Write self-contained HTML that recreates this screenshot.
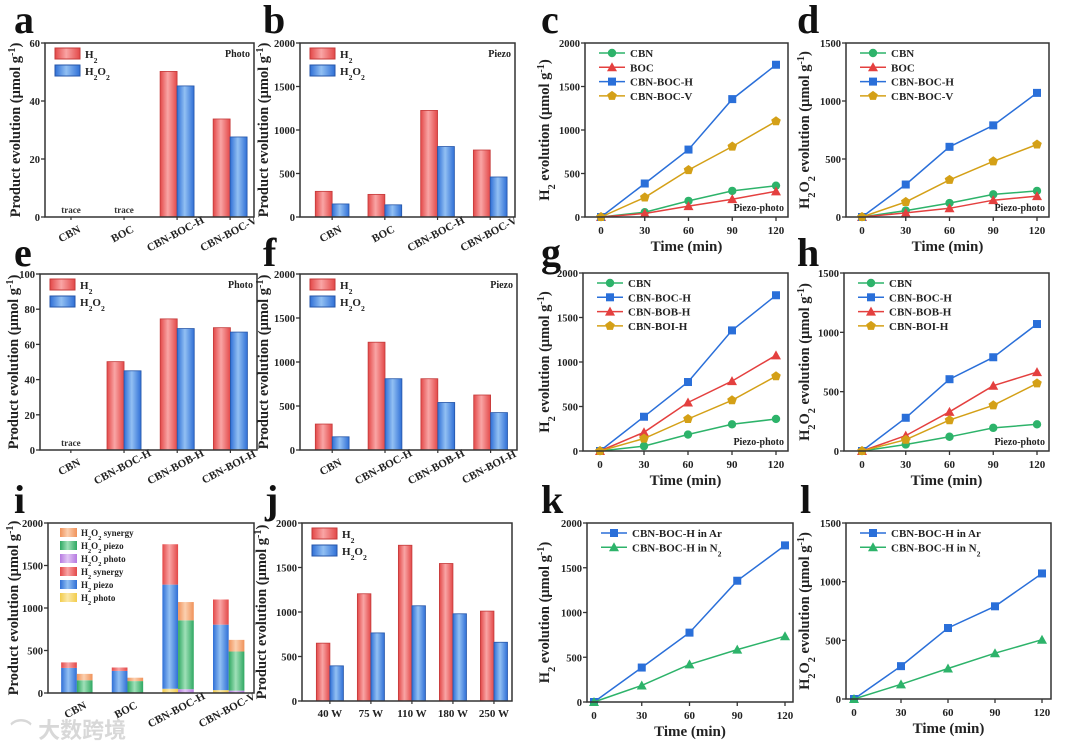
<!DOCTYPE html>
<html><head><meta charset="utf-8"><style>
html,body{margin:0;padding:0;background:#fff}
svg{display:block;font-family:"Liberation Serif","Noto Serif CJK SC",serif;font-weight:bold}
</style></head><body>
<svg id="fig" width="1080" height="748" viewBox="0 0 1080 748" xmlns="http://www.w3.org/2000/svg">
<defs>
<linearGradient id="gRed" x1="0" x2="1" y1="0" y2="0"><stop offset="0" stop-color="#e34848"/><stop offset="0.45" stop-color="#f9a5a5"/><stop offset="1" stop-color="#e34848"/></linearGradient>
<linearGradient id="gBlue" x1="0" x2="1" y1="0" y2="0"><stop offset="0" stop-color="#2f6fd6"/><stop offset="0.45" stop-color="#92c0f3"/><stop offset="1" stop-color="#2f6fd6"/></linearGradient>
<linearGradient id="gYel" x1="0" x2="1"><stop offset="0" stop-color="#f2cc4c"/><stop offset="0.45" stop-color="#fbe8a8"/><stop offset="1" stop-color="#f2cc4c"/></linearGradient>
<linearGradient id="gPur" x1="0" x2="1"><stop offset="0" stop-color="#b57ae0"/><stop offset="0.45" stop-color="#e2c6f5"/><stop offset="1" stop-color="#b57ae0"/></linearGradient>
<linearGradient id="gGrn" x1="0" x2="1"><stop offset="0" stop-color="#2fa862"/><stop offset="0.45" stop-color="#9fe0b8"/><stop offset="1" stop-color="#2fa862"/></linearGradient>
<linearGradient id="gOra" x1="0" x2="1"><stop offset="0" stop-color="#f0925a"/><stop offset="0.45" stop-color="#fbd0b0"/><stop offset="1" stop-color="#f0925a"/></linearGradient>
</defs>
</svg>
<script>
// ---------- data ----------
const catsABC = ["CBN","BOC","CBN-BOC-H","CBN-BOC-V"];
const aH2 = [0,0,50.2,33.8];
const aH2O2 = [0,0,45.2,27.6];
const bH2 = [295,260,1225,770];
const bH2O2 = [150,140,810,460];
const catsEF = ["CBN","CBN-BOC-H","CBN-BOB-H","CBN-BOI-H"];
const eH2 = [0,50.2,74.5,69.5];
const eH2O2 = [0,45,69,67];
const fH2 = [295,1225,810,625];
const fH2O2 = [150,810,540,425];
const times = [0,30,60,90,120];
const cCBN = [0,55,185,300,360];
const cBOC = [0,40,125,205,295];
const cH = [0,385,775,1355,1750];
const cV = [0,225,540,810,1100];
const dCBN = [0,55,120,195,225];
const dBOC = [0,35,75,145,180];
const dH = [0,280,605,790,1070];
const dV = [0,130,320,480,625];
const gBOB = [0,210,545,785,1075];
const gBOI = [0,140,360,570,840];
const hBOB = [0,130,330,550,665];
const hBOI = [0,95,260,385,570];
const iH2photo = [0,0,50,34];
const iH2piezo = [295,260,1225,770];
const iH2syn = [65,40,475,296];
const iO2photo = [0,0,45,28];
const iO2piezo = [150,140,810,460];
const iO2syn = [75,40,215,137];
const catsJ = ["40 W","75 W","110 W","180 W","250 W"];
const jH2 = [650,1205,1750,1545,1010];
const jH2O2 = [395,765,1070,980,660];
const kAr = [0,385,775,1355,1750];
const kN2 = [0,185,420,585,735];
const lAr = [0,280,605,790,1070];
const lN2 = [0,125,260,390,505];
const ticks2000 = [0,500,1000,1500,2000];
const ticks1500 = [0,500,1000,1500];
const ticks60 = [0,20,40,60];
const ticks100 = [0,20,40,60,80,100];
const timeTicks = [0,30,60,90,120];

// ---------- helpers ----------
const NS="http://www.w3.org/2000/svg";
const svg=document.getElementById('fig');
function el(tag,attrs,parent,text){const e=document.createElementNS(NS,tag);for(const k in attrs)e.setAttribute(k,attrs[k]);if(text!==undefined)e.textContent=text;(parent||svg).appendChild(e);return e;}
function grp(name){const g=el('g',{});


return g;}
function rich(t,parts){
  parts.forEach(p=>{const ts=el('tspan',{},t,p[0]);if(p[1]==='sub'){ts.setAttribute('baseline-shift','sub');ts.setAttribute('font-size','0.7em');}if(p[1]==='sup'){ts.setAttribute('baseline-shift','super');ts.setAttribute('font-size','0.7em');}});
}
function panelLetter(ch,x,y){const t=el('text',{x:x,y:y,'font-size':40,fill:'#111'},svg,ch);

}
function frame(g,b){const r=el('rect',{x:b.l,y:b.t,width:b.r-b.l,height:b.b-b.t,fill:'none',stroke:'#333','stroke-width':1.5},g);

}
function yAxis(g,b,ticks,max,titleParts,tx){
  const ys=v=>b.b-(v/max)*(b.b-b.t);
  ticks.forEach(v=>{el('line',{x1:b.l-4,x2:b.l,y1:ys(v),y2:ys(v),stroke:'#333','stroke-width':1.3},g);
    const t=el('text',{x:b.l-5,y:ys(v)+4,'text-anchor':'end','font-size':10.5,fill:'#222'},g,v);
    
    });
  const cy=(b.t+b.b)/2;
  const t=el('text',{x:tx,y:cy,'text-anchor':'middle','font-size':14.5,fill:'#222',transform:`rotate(-90 ${tx} ${cy})`},g);
  rich(t,titleParts);
  
  
  return ys;
}
const prodTitle=[["Product evolution (μmol g",""],["-1","sup"],[")",""]];
const h2Title=[["H",""],["2","sub"],[" evolution (μmol g",""],["-1","sup"],[")",""]];
const h2o2Title=[["H",""],["2","sub"],["O",""],["2","sub"],[" evolution (μmol g",""],["-1","sup"],[")",""]];

function barPanel(name,b,cats,series,fills,max,ticks,lo,hi,bw,rot,legend,corner,traces){
  const g=grp(name);
  const xs=i=>b.l+(i-lo)/(hi-lo)*(b.r-b.l);
  const ys=yAxis(g,b,ticks,max,prodTitle,b.tx);
  const unit=(b.r-b.l)/(hi-lo);
  series.forEach((arr,si)=>{arr.forEach((v,i)=>{
    if(v<=0)return;
    const x=xs(i)+(si-series.length/2)*bw*unit;
    const r=el('rect',{x:x,y:ys(v),width:bw*unit,height:b.b-ys(v),fill:fills[si],stroke:si===0?'#c43a3a':'#2656a8','stroke-width':0.8},g);
    
    
  });});
  cats.forEach((c,i)=>{const cx=xs(i),cy=b.b+(rot?20:16);
    const t=el('text',{x:cx,y:cy,'text-anchor':'middle','font-size':11,fill:'#222'},g,c);
    if(rot)t.setAttribute('transform',`rotate(-28 ${cx} ${cy})`);
    
    
    el('line',{x1:cx,x2:cx,y1:b.b,y2:b.b+3,stroke:'#333','stroke-width':1.2},g);
  });
  (traces||[]).forEach(i=>{const t=el('text',{x:xs(i),y:b.b-4,'text-anchor':'middle','font-size':9,fill:'#333'},g,'trace');
    
    });
  if(legend){legend.forEach((lp,k)=>{const y=b.t+5+k*17;
    el('rect',{x:b.l+10,y:y,width:25,height:11,fill:fills[k],stroke:k===0?'#c43a3a':'#2656a8','stroke-width':1},g);
    const t=el('text',{x:b.l+40,y:y+10,'font-size':11,fill:'#222'},g);rich(t,lp);
    
    });}
  if(corner){const t=el('text',{x:b.r-4,y:b.t+14,'text-anchor':'end','font-size':10,fill:'#222'},g,corner);
    
    }
  frame(g,b);
}
const legH2=[["H",""],["2","sub"]];
const legH2O2=[["H",""],["2","sub"],["O",""],["2","sub"]];

function marker(g,type,x,y,c){
  let m;
  if(type==='circle')m=el('circle',{cx:x,cy:y,r:4.2,fill:c},g);
  else if(type==='square')m=el('rect',{x:x-4,y:y-4,width:8,height:8,fill:c},g);
  else if(type==='tri')m=el('polygon',{points:`${x},${y-5} ${x+5},${y+4} ${x-5},${y+4}`,fill:c},g);
  else {const p=[];for(let k=0;k<5;k++){const a=-Math.PI/2+k*2*Math.PI/5;p.push((x+5*Math.cos(a)).toFixed(1)+','+(y+5*Math.sin(a)).toFixed(1));}m=el('polygon',{points:p.join(' '),fill:c},g);}
  return m;
}
function linePanel(name,b,x0,x120,max,ticks,title,series,corner){
  const g=grp(name);
  const xs=t=>x0+(t/120)*(x120-x0);
  const ys=yAxis(g,b,ticks,max,title,b.tx);
  timeTicks.forEach(t=>{el('line',{x1:xs(t),x2:xs(t),y1:b.b,y2:b.b+4,stroke:'#333','stroke-width':1.3},g);
    const tt=el('text',{x:xs(t),y:b.b+17,'text-anchor':'middle','font-size':11,fill:'#222'},g,t);
    
    });
  const xt=el('text',{x:(b.l+b.r)/2,y:b.b+34,'text-anchor':'middle','font-size':15,fill:'#222'},g,'Time (min)');
  
  
  series.forEach(s=>{
    const pts=s.data.map((v,i)=>xs(times[i]).toFixed(1)+','+ys(v).toFixed(1)).join(' ');
    const pl=el('polyline',{points:pts,fill:'none',stroke:s.color,'stroke-width':1.5},g);
    
    
    s.data.forEach((v,i)=>{const m=marker(g,s.mk,xs(times[i]),ys(v),s.color);
      
      });
  });
  series.forEach((s,k)=>{const y=b.t+10+k*14.3;
    el('line',{x1:b.l+14,x2:b.l+40,y1:y,y2:y,stroke:s.color,'stroke-width':1.5},g);
    marker(g,s.mk,b.l+27,y,s.color);
    const t=el('text',{x:b.l+45,y:y+4,'font-size':11,fill:'#222'},g);rich(t,s.label);
    
    });
  if(corner){const t=el('text',{x:b.r-4,y:b.b-6,'text-anchor':'end','font-size':10,fill:'#222'},g,corner);
    
    }
  frame(g,b);
}
const GREEN='#2db36a',RED='#e4403f',BLUE='#2a6fd9',GOLD='#d4a017';

// ---------- row 1 ----------
panelLetter('a',14,33);panelLetter('b',263,33);panelLetter('c',541,33);panelLetter('d',797,33);
barPanel('panel-a',{l:45,t:43,r:254,b:217,tx:20},catsABC,[aH2,aH2O2],['url(#gRed)','url(#gBlue)'],60,ticks60,-0.49,3.45,0.32,true,[legH2,legH2O2],'Photo',[0,1]);
barPanel('panel-b',{l:300,t:43,r:515,b:217,tx:268},catsABC,[bH2,bH2O2],['url(#gRed)','url(#gBlue)'],2000,ticks2000,-0.61,3.47,0.32,true,[legH2,legH2O2],'Piezo');
linePanel('panel-c',{l:585,t:43,r:788,b:217,tx:549},601,776,2000,ticks2000,h2Title,[
 {key:'CBN',data:cCBN,color:GREEN,mk:'circle',label:[["CBN",""]]},
 {key:'BOC',data:cBOC,color:RED,mk:'tri',label:[["BOC",""]]},
 {key:'CBN-BOC-H',data:cH,color:BLUE,mk:'square',label:[["CBN-BOC-H",""]]},
 {key:'CBN-BOC-V',data:cV,color:GOLD,mk:'pent',label:[["CBN-BOC-V",""]]}],'Piezo-photo');
linePanel('panel-d',{l:846,t:43,r:1049,b:217,tx:809},862,1037,1500,ticks1500,h2o2Title,[
 {key:'CBN',data:dCBN,color:GREEN,mk:'circle',label:[["CBN",""]]},
 {key:'BOC',data:dBOC,color:RED,mk:'tri',label:[["BOC",""]]},
 {key:'CBN-BOC-H',data:dH,color:BLUE,mk:'square',label:[["CBN-BOC-H",""]]},
 {key:'CBN-BOC-V',data:dV,color:GOLD,mk:'pent',label:[["CBN-BOC-V",""]]}],'Piezo-photo');

// ---------- row 2 ----------
panelLetter('e',14,266);panelLetter('f',263,266);panelLetter('g',541,266);panelLetter('h',797,266);
barPanel('panel-e',{l:40,t:274,r:257,b:450,tx:18},catsEF,[eH2,eH2O2],['url(#gRed)','url(#gBlue)'],100,ticks100,-0.58,3.5,0.32,true,[legH2,legH2O2],'Photo',[0]);
barPanel('panel-f',{l:300,t:274,r:517,b:450,tx:268},catsEF,[fH2,fH2O2],['url(#gRed)','url(#gBlue)'],2000,ticks2000,-0.61,3.5,0.32,true,[legH2,legH2O2],'Piezo');
linePanel('panel-g',{l:583,t:273,r:788,b:451,tx:549},600,776,2000,ticks2000,h2Title,[
 {key:'CBN',data:cCBN,color:GREEN,mk:'circle',label:[["CBN",""]]},
 {key:'CBN-BOC-H',data:cH,color:BLUE,mk:'square',label:[["CBN-BOC-H",""]]},
 {key:'CBN-BOB-H',data:gBOB,color:RED,mk:'tri',label:[["CBN-BOB-H",""]]},
 {key:'CBN-BOI-H',data:gBOI,color:GOLD,mk:'pent',label:[["CBN-BOI-H",""]]}],'Piezo-photo');
linePanel('panel-h',{l:844,t:273,r:1049,b:451,tx:809},862,1037,1500,ticks1500,h2o2Title,[
 {key:'CBN',data:dCBN,color:GREEN,mk:'circle',label:[["CBN",""]]},
 {key:'CBN-BOC-H',data:dH,color:BLUE,mk:'square',label:[["CBN-BOC-H",""]]},
 {key:'CBN-BOB-H',data:hBOB,color:RED,mk:'tri',label:[["CBN-BOB-H",""]]},
 {key:'CBN-BOI-H',data:hBOI,color:GOLD,mk:'pent',label:[["CBN-BOI-H",""]]}],'Piezo-photo');

// ---------- row 3 ----------
panelLetter('i',14,513);panelLetter('j',265,513);panelLetter('k',541,513);panelLetter('l',800,513);
(function(){
  const b={l:48,t:523,r:254,b:693,tx:18};
  const g=grp('panel-i');
  const lo=-0.57,hi=3.5;
  const xs=i=>b.l+(i-lo)/(hi-lo)*(b.r-b.l);
  const unit=(b.r-b.l)/(hi-lo),bw=0.31*unit;
  const ys=yAxis(g,b,ticks2000,2000,prodTitle,b.tx);
  const h2Stack=[[iH2photo,'url(#gYel)','H2-photo'],[iH2piezo,'url(#gBlue)','H2-piezo'],[iH2syn,'url(#gRed)','H2-synergy']];
  const o2Stack=[[iO2photo,'url(#gPur)','H2O2-photo'],[iO2piezo,'url(#gGrn)','H2O2-piezo'],[iO2syn,'url(#gOra)','H2O2-synergy']];
  [h2Stack,o2Stack].forEach((stack,si)=>{
    catsABC.forEach((c,i)=>{let acc=0;const x=xs(i)+(si-1)*bw;
      stack.forEach(([arr,fill,nm])=>{const v=arr[i];if(v<=0)return;
        const r=el('rect',{x:x,y:ys(acc+v),width:bw,height:ys(acc)-ys(acc+v),fill:fill},g);
        
        
        acc+=v;});
    });
  });
  catsABC.forEach((c,i)=>{const cx=xs(i),cy=b.b+20;
    const t=el('text',{x:cx,y:cy,'text-anchor':'middle','font-size':11,fill:'#222',transform:`rotate(-28 ${cx} ${cy})`},g,c);
    
    });
  const leg=[['url(#gOra)',[["H",""],["2","sub"],["O",""],["2","sub"],[" synergy",""]]],
             ['url(#gGrn)',[["H",""],["2","sub"],["O",""],["2","sub"],[" piezo",""]]],
             ['url(#gPur)',[["H",""],["2","sub"],["O",""],["2","sub"],[" photo",""]]],
             ['url(#gRed)',[["H",""],["2","sub"],[" synergy",""]]],
             ['url(#gBlue)',[["H",""],["2","sub"],[" piezo",""]]],
             ['url(#gYel)',[["H",""],["2","sub"],[" photo",""]]]];
  leg.forEach(([f,lp],k)=>{const y=b.t+5+k*13;
    el('rect',{x:b.l+12,y:y,width:17,height:9,fill:f},g);
    const t=el('text',{x:b.l+33,y:y+8,'font-size':9,fill:'#222'},g);rich(t,lp);
    
    });
  frame(g,b);
})();
barPanel('panel-j',{l:302,t:523,r:512,b:701,tx:266},catsJ,[jH2,jH2O2],['url(#gRed)','url(#gBlue)'],2000,ticks2000,-0.68,4.44,0.33,false,[legH2,legH2O2],null);
linePanel('panel-k',{l:587,t:523,r:793,b:702,tx:549},594,785,2000,ticks2000,h2Title,[
 {key:'Ar',data:kAr,color:BLUE,mk:'square',label:[["CBN-BOC-H in Ar",""]]},
 {key:'N2',data:kN2,color:GREEN,mk:'tri',label:[["CBN-BOC-H in N",""],["2","sub"]]}]);
linePanel('panel-l',{l:846,t:523,r:1051,b:699,tx:809},854,1042,1500,ticks1500,h2o2Title,[
 {key:'Ar',data:lAr,color:BLUE,mk:'square',label:[["CBN-BOC-H in Ar",""]]},
 {key:'N2',data:lN2,color:GREEN,mk:'tri',label:[["CBN-BOC-H in N",""],["2","sub"]]}]);

// watermark
const wm=el('text',{x:10,y:738,'font-size':22,fill:'#d8d8d8','font-family':'"Liberation Sans","Noto Sans CJK SC",sans-serif'},svg,'⌒ 大数跨境');


</script>
</body></html>
